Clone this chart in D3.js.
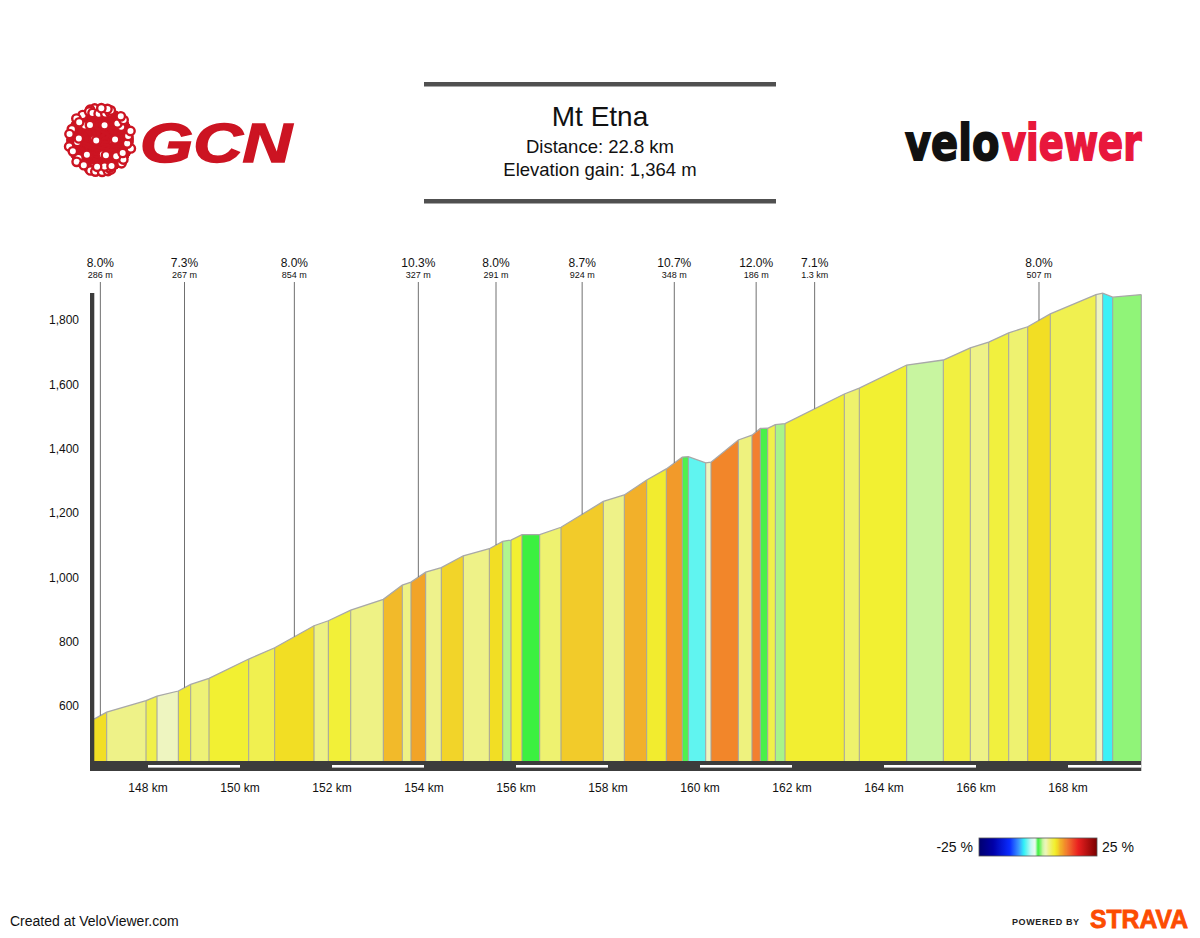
<!DOCTYPE html>
<html><head><meta charset="utf-8">
<script src="https://cdn.jsdelivr.net/npm/d3@7"></script>
<style>
body{margin:0;background:#fff}
svg{display:block}
text{font-family:"Liberation Sans",Arial,Helvetica,sans-serif}
</style>
</head><body>
<svg id="c" width="1200" height="938"></svg>
<script>
// ---------- DATA ----------
const boundaryKm = [146.826,147.102,147.957,148.196,148.659,148.928,149.326,150.189,150.754,151.609,
  151.920,152.407,153.115,153.528,153.717,154.037,154.376,154.854,155.420,155.711,
  155.891,156.130,156.515,156.978,157.898,158.354,158.841,159.267,159.615,159.746,
  160.124,160.239,160.833,161.130,161.311,161.472,161.637,161.848,163.137,163.463,
  164.493,165.289,165.876,166.276,166.711,167.124,167.615,168.609,168.754,168.972,169.593];
const boundaryElev = [559,581,616.5,631,646.6,667,686,746,781,849.5,
  865,898,931.6,976,985,1016,1030,1067,1089,1112,
  1116,1132.6,1132.6,1155.6,1236,1256,1302.5,1337,1374,1375,
  1356,1358,1427,1442,1463,1463.5,1475,1478,1570,1588,
  1660,1675.6,1713.5,1731.5,1760,1779,1819,1879,1883.6,1871,1879];
const segmentGrade = [8.0,4.5,6.2,3.2,7.3,5.0,7.0,6.0,8.0,4.6,
  6.8,4.6,9.2,4.6,10.3,4.4,8.4,4.5,8.0,1.7,
  7.0,0.0,5.2,8.7,4.5,9.5,7.2,10.7,0.3,-5.0,
  3.2,11.6,4.8,12.0,0.2,6.2,1.6,7.1,5.3,7.0,
  2.0,6.5,4.5,6.6,5.2,8.0,6.0,3.2,-5.8,1.3];
const annoSegment = [0,4,8,14,18,23,27,33,37,45];
const annoGrade  = ["8.0%","7.3%","8.0%","10.3%","8.0%","8.7%","10.7%","12.0%","7.1%","8.0%"];
const annoLength = ["286 m","267 m","854 m","327 m","291 m","924 m","348 m","186 m","1.3 km","507 m"];
const yTicks = [600,800,1000,1200,1400,1600,1800];
const xTicks = [148,150,152,154,156,158,160,162,164,166,168];
const gradeStops  = [-25,-19,-12,-8,-6,-5,-3,-1.2,0,1.3,2,3.2,4.5,5.2,6,7,8,8.5,9.5,10.3,10.7,11.6,12,17,25];
const gradeColors = ["#00006e","#0000a8","#0a2cff","#3c9cff","#30f0f8","#60f4f0","#c4f8f2","#eefaf2","#3cf040","#90f478","#c8f5a0","#eef5c0","#eef288","#eef270","#f0f050","#f2f032","#f2de24","#f2d22a","#f2b02a","#f2a428","#f29a2a","#f2862a","#f28030","#ea2020","#7a0000"];
const title = "Mt Etna";
const subtitle1 = "Distance: 22.8 km";
const subtitle2 = "Elevation gain: 1,364 m";

// ---------- SCALES ----------
const svg = d3.select("#c");
const x = d3.scaleLinear().domain([148,168]).range([148,1068]);
const y = d3.scaleLinear().domain([600,1800]).range([706,320]);
const color = d3.scaleLinear().domain(gradeStops).range(gradeColors).interpolate(d3.interpolateRgb).clamp(true);
const baseY = 761;
const endKm = boundaryKm[boundaryKm.length-1];

// ---------- HEADER ----------
svg.append("rect").attr("x",424).attr("y",82).attr("width",352).attr("height",4.5).attr("fill","#505050");
svg.append("rect").attr("x",424).attr("y",199).attr("width",352).attr("height",4.5).attr("fill","#505050");
svg.append("text").attr("x",600).attr("y",126).attr("text-anchor","middle").attr("font-size",28).attr("fill","#111").text(title);
svg.append("text").attr("x",600).attr("y",152.5).attr("text-anchor","middle").attr("font-size",18.5).attr("fill","#111").text(subtitle1);
svg.append("text").attr("x",600).attr("y",175.5).attr("text-anchor","middle").attr("font-size",18.5).attr("fill","#111").text(subtitle2);

// GCN logo
const gcnRed = "#cc1422";
const lg = svg.append("g");
const cx0 = 100, cy0 = 140, R = 32;
const proj = d3.geoOrthographic().scale(R).translate([cx0,cy0]).rotate([20,-15]).clipAngle(90);
const nodes = [];
for (let lat=-70; lat<=70; lat+=28) for (let lon=-180; lon<180; lon+=36) nodes.push([lon+(lat/28)%2*18, lat]);
lg.append("circle").attr("cx",cx0).attr("cy",cy0).attr("r",R).attr("fill","#fff").attr("stroke",gcnRed).attr("stroke-width",1.2).attr("stroke-dasharray","3,2");
const linkPath = d3.geoPath(proj);
const links = [];
nodes.forEach((a,i)=>nodes.forEach((b,j)=>{ if(j>i && d3.geoDistance(a.map(v=>v*Math.PI/180),b.map(v=>v*Math.PI/180))<0.62 && (i+j)%3!==0) links.push({type:"LineString",coordinates:[a,b]}); }));
lg.selectAll("path.l").data(links).join("path").attr("d",linkPath).attr("fill","none").attr("stroke",gcnRed).attr("stroke-width",3);
nodes.forEach(n=>{
  const p = proj(n); const vis = d3.geoDistance(n.map(v=>v*Math.PI/180),[-20*Math.PI/180,15*Math.PI/180]) < Math.PI/2;
  if (vis && p) { lg.append("circle").attr("cx",p[0]).attr("cy",p[1]).attr("r",4.2).attr("fill","#fff").attr("stroke",gcnRed).attr("stroke-width",2.4); }
});
svg.append("text").attr("x",140).attr("y",162).attr("font-size",56).attr("font-weight","bold").attr("font-style","italic")
  .attr("fill",gcnRed).attr("stroke",gcnRed).attr("stroke-width",1.5)
  .attr("textLength",152).attr("lengthAdjust","spacingAndGlyphs").text("GCN");

// veloviewer logo (horizontally compressed via transform)
svg.append("g").attr("transform","translate(905,160) scale(0.8,1)")
  .append("text").attr("x",0).attr("y",0).attr("font-size",50).attr("font-weight","bold")
  .style("font-family","'DejaVu Sans',sans-serif").attr("fill","#111").attr("stroke","#111").attr("stroke-width",1.8)
  .text("velo");
svg.append("g").attr("transform","translate(1002,160) scale(0.74,1)")
  .append("text").attr("x",0).attr("y",0).attr("font-size",50).attr("font-weight","bold")
  .style("font-family","'DejaVu Sans',sans-serif").attr("fill","#e8173c").attr("stroke","#e8173c").attr("stroke-width",1.8)
  .text("viewer");

// ---------- PROFILE ----------
const segs = segmentGrade.map((g,i)=>({g,k0:boundaryKm[i],k1:boundaryKm[i+1],e0:boundaryElev[i],e1:boundaryElev[i+1]}));
svg.append("g").selectAll("path").data(segs).join("path")
  .attr("d",d=>`M${x(d.k0)},${baseY}L${x(d.k0)},${y(d.e0)}L${x(d.k1)},${y(d.e1)}L${x(d.k1)},${baseY}Z`)
  .attr("fill",d=>color(d.g));
svg.append("g").selectAll("line").data(boundaryKm.slice(1)).join("line")
  .attr("x1",d=>x(d)).attr("x2",d=>x(d)).attr("y1",baseY).attr("y2",(d,i)=>y(boundaryElev[i+1]))
  .attr("stroke","#a0a0a0").attr("stroke-width",1);
svg.append("path").datum(boundaryKm.map((k,i)=>[k,boundaryElev[i]]))
  .attr("d",d3.line().x(d=>x(d[0])).y(d=>y(d[1])))
  .attr("fill","none").attr("stroke","#a8a8a8").attr("stroke-width",1.3);

// annotations
const ann = svg.append("g");
annoSegment.forEach((s,i)=>{
  const km = (boundaryKm[s]+boundaryKm[s+1])/2, el = (boundaryElev[s]+boundaryElev[s+1])/2;
  ann.append("line").attr("x1",x(km)).attr("x2",x(km)).attr("y1",282).attr("y2",y(el)).attr("stroke","#707070").attr("stroke-width",1);
  ann.append("text").attr("x",x(km)).attr("y",266.5).attr("text-anchor","middle").attr("font-size",12).attr("fill","#111").text(annoGrade[i]);
  ann.append("text").attr("x",x(km)).attr("y",277.5).attr("text-anchor","middle").attr("font-size",9).attr("fill","#111").text(annoLength[i]);
});

// axes
svg.append("rect").attr("x",90).attr("y",293).attr("width",4.3).attr("height",478).attr("fill","#3c3c3c");
svg.append("rect").attr("x",90).attr("y",baseY).attr("width",x(endKm)-90).attr("height",10).attr("fill","#3c3c3c");
svg.append("g").selectAll("rect").data(xTicks.filter((d,i)=>i%2===0)).join("rect")
  .attr("x",d=>x(d)).attr("width",d=>x(Math.min(d+2,endKm))-x(d)).attr("y",765).attr("height",2.6).attr("fill","#fff");
svg.append("g").selectAll("text").data(xTicks).join("text")
  .attr("x",d=>x(d)).attr("y",792).attr("text-anchor","middle").attr("font-size",12).attr("fill","#111").text(d=>d+" km");
svg.append("g").selectAll("text").data(yTicks).join("text")
  .attr("x",79).attr("y",d=>y(d)).attr("dy","0.35em").attr("text-anchor","end").attr("font-size",12).attr("fill","#111").text(d3.format(","));

// ---------- LEGEND ----------
const defs = svg.append("defs");
const grad = defs.append("linearGradient").attr("id","gg");
d3.range(0,1.0001,0.01).forEach(t=>grad.append("stop").attr("offset",t).attr("stop-color",color(-25+50*t)));
svg.append("rect").attr("x",979).attr("y",838).attr("width",118).attr("height",18).attr("fill","url(#gg)").attr("stroke","#555").attr("stroke-width",0.8);
svg.append("text").attr("x",973).attr("y",847).attr("dy","0.35em").attr("text-anchor","end").attr("font-size",14).attr("fill","#111").text("-25 %");
svg.append("text").attr("x",1102).attr("y",847).attr("dy","0.35em").attr("font-size",14).attr("fill","#111").text("25 %");

// ---------- FOOTER ----------
svg.append("text").attr("x",10).attr("y",926).attr("font-size",14).attr("fill","#111").text("Created at VeloViewer.com");
svg.append("text").attr("x",1012).attr("y",925).attr("font-size",9).attr("font-weight","bold").attr("fill","#222")
  .attr("textLength",67).attr("lengthAdjust","spacing").text("POWERED BY");
svg.append("text").attr("x",1090).attr("y",928).attr("font-size",26).attr("font-weight","bold").attr("fill","#fc4c02")
  .attr("stroke","#fc4c02").attr("stroke-width",0.8)
  .attr("textLength",98).attr("lengthAdjust","spacingAndGlyphs").text("STRAVA");
</script>
</body></html>
